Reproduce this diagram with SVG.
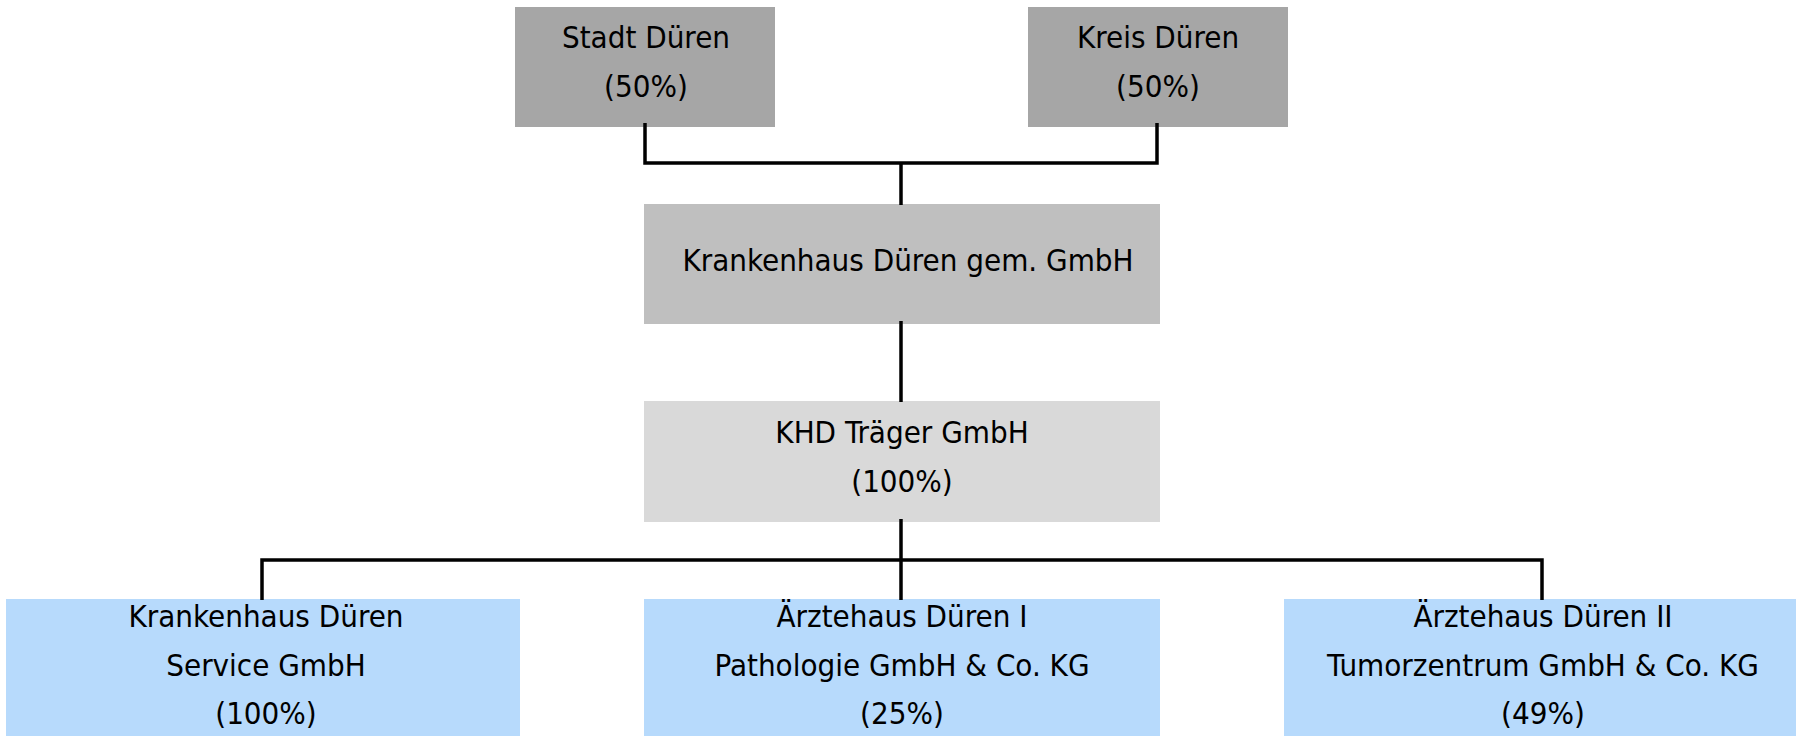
<svg xmlns="http://www.w3.org/2000/svg" width="1796" height="736" viewBox="0 0 1796 736">
<style>
text{font-family:"DejaVu Sans Condensed","DejaVu Sans","Liberation Sans",sans-serif;font-stretch:condensed;font-size:31px;fill:#000;text-anchor:middle}
.owner{fill:#a6a6a6}
.parent{fill:#bfbfbf}
.holding{fill:#d9d9d9}
.sub{fill:#b7dafc}
.conn{fill:none;stroke:#000;stroke-width:3.5}
</style>
<rect width="1796" height="736" fill="#fff"/>
<g id="stadt">
<rect class="owner" x="515" y="7" width="260" height="120"/>
<text x="646" y="48">Stadt Düren</text>
<text x="646" y="97">(50%)</text>
</g>
<g id="kreis">
<rect class="owner" x="1028" y="7" width="260" height="120"/>
<text x="1158" y="48">Kreis Düren</text>
<text x="1158" y="97">(50%)</text>
</g>
<g id="gem">
<rect class="parent" x="644" y="204" width="516" height="120"/>
<text x="908" y="271">Krankenhaus Düren gem. GmbH</text>
</g>
<g id="khd">
<rect class="holding" x="644" y="401" width="516" height="121"/>
<text x="902" y="443">KHD Träger GmbH</text>
<text x="902" y="492">(100%)</text>
</g>
<g id="service">
<rect class="sub" x="6" y="599" width="514" height="137"/>
<text x="266" y="627">Krankenhaus Düren</text>
<text x="266" y="676">Service GmbH</text>
<text x="266" y="724">(100%)</text>
</g>
<g id="pathologie">
<rect class="sub" x="644" y="599" width="516" height="137"/>
<text x="902" y="627">Ärztehaus Düren I</text>
<text x="902" y="676">Pathologie GmbH &amp; Co. KG</text>
<text x="902" y="724">(25%)</text>
</g>
<g id="tumorzentrum">
<rect class="sub" x="1284" y="599" width="516" height="137"/>
<text x="1543" y="627">Ärztehaus Düren II</text>
<text x="1543" y="676">Tumorzentrum GmbH &amp; Co. KG</text>
<text x="1543" y="724">(49%)</text>
</g>
<g id="connectors">
<path class="conn" d="M645 123 V163 H1157 V123"/>
<path class="conn" d="M901 163 V205"/>
<path class="conn" d="M901 321 V402"/>
<path class="conn" d="M901 519 V600"/>
<path class="conn" d="M262 600 V560 H1542 V600"/>
</g>
</svg>
